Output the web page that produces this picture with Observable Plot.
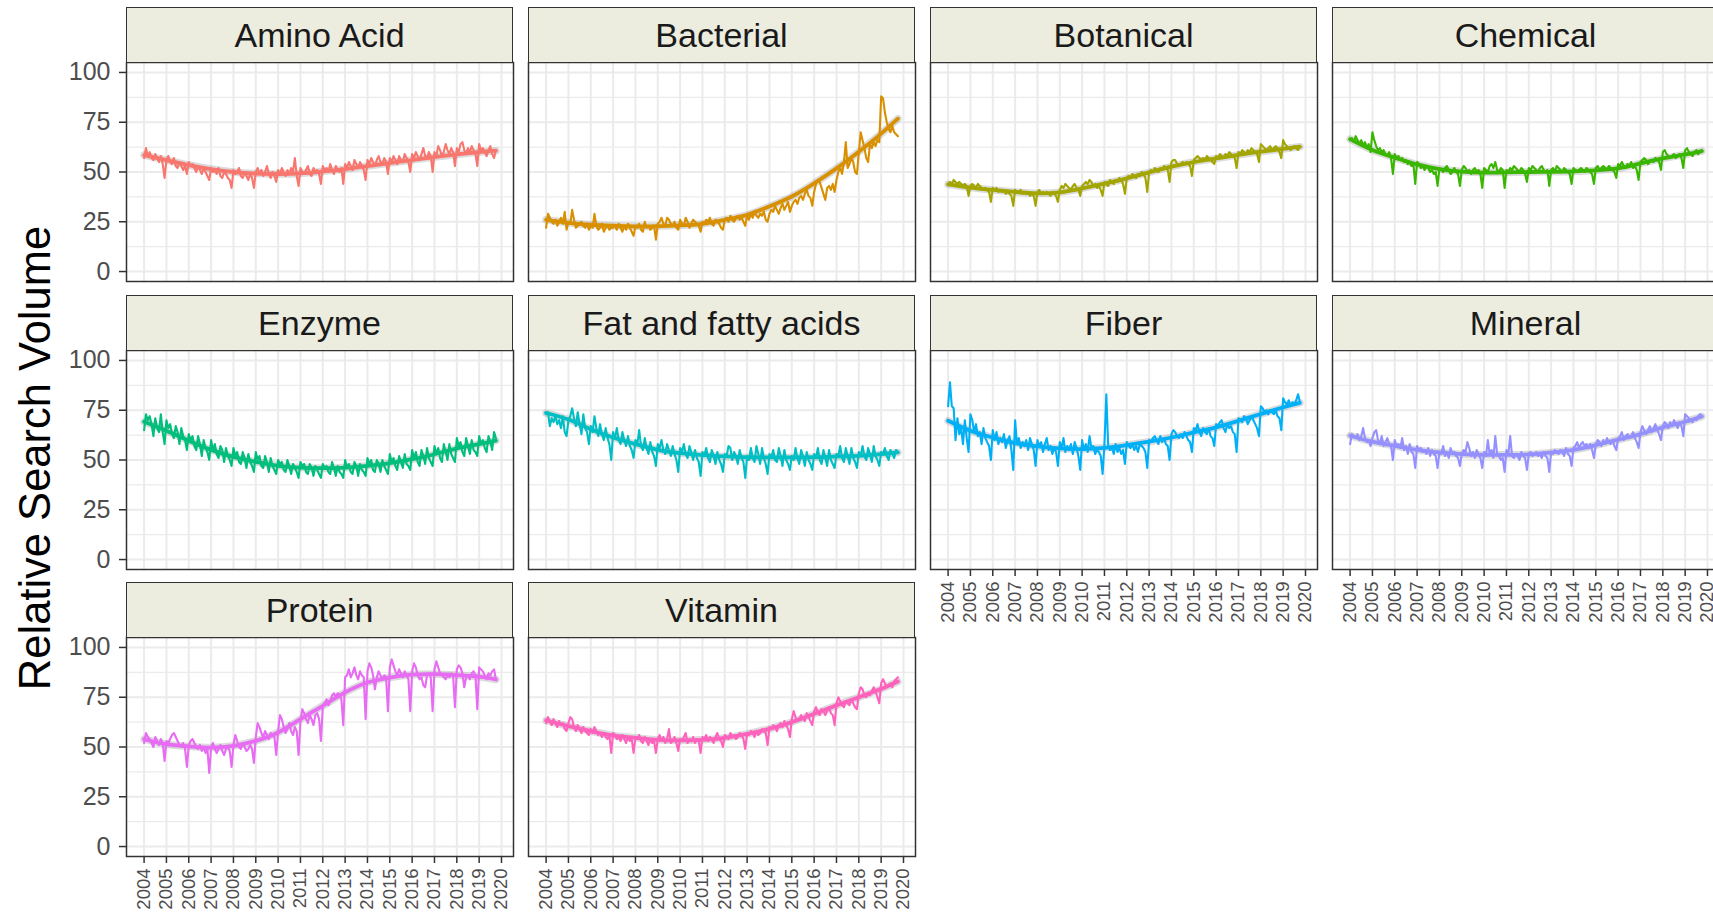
<!DOCTYPE html>
<html><head><meta charset="utf-8">
<script src="https://cdn.jsdelivr.net/npm/d3@7"></script>
<script src="https://cdn.jsdelivr.net/npm/@observablehq/plot@0.6"></script>
<style>
body{margin:0;background:#fff;font-family:"Liberation Sans",Arial,sans-serif;}
#chart{position:relative;width:1713px;height:913px;overflow:hidden;background:#fff;}
.strip{position:absolute;box-sizing:border-box;border:1.5px solid #333;background:#ECECDF;color:#1a1a1a;font-size:34px;display:flex;align-items:center;justify-content:center;font-family:"Liberation Sans",Arial,sans-serif;}
.panel{position:absolute;}
.panel svg{overflow:visible;max-width:none !important;height:auto;display:block;}
</style></head>
<body><div id="chart"></div>
<script>
// ---------- DATA ----------
const categories = ["Amino Acid","Bacterial","Botanical","Chemical","Enzyme","Fat and fatty acids","Fiber","Mineral","Protein","Vitamin"];
const colors = ["#F8766D","#D89000","#A3A500","#39B600","#00BF7D","#00BFC4","#00B0F6","#9590FF","#E76BF3","#FF62BC"];
const yearTicks = [2004,2005,2006,2007,2008,2009,2010,2011,2012,2013,2014,2015,2016,2017,2018,2019,2020];
const yTicks = [0,25,50,75,100];
const yMinor = [12.5,37.5,62.5,87.5];
const startYear = 2004; // monthly data, Jan 2004 - Oct 2019
const smoothKnots = [2004,2005,2006,2007,2008,2009,2010,2011,2012,2013,2014,2015,2016,2017,2018,2019,2019.75];

const aminoAcid = [
57,62,58,60,57,56,59,57,55,58,54,47,
56,58,55,54,57,53,52,55,53,51,53,49,
55,53,54,52,50,53,51,49,52,50,48,46,
52,50,51,49,52,48,47,50,49,47,46,42,
51,49,50,52,48,47,50,48,46,49,47,42,
50,52,49,51,48,50,53,49,47,50,48,45,
51,49,52,50,48,51,49,52,50,57,48,43,
52,50,49,51,53,49,48,52,50,51,49,44,
53,51,52,50,54,51,49,53,51,50,52,44,
54,52,55,53,51,56,54,52,55,53,51,46,
56,54,57,55,53,56,58,55,54,57,55,49,
57,55,58,56,54,58,56,55,59,57,55,50,
59,57,60,58,56,59,62,58,57,60,58,50,
60,58,63,61,58,60,64,61,59,62,60,53,
62,60,64,65,61,59,62,60,63,61,59,53,
64,61,62,60,58,61,63,59,57,61];
const bacterial = [
22,29,27,25,24,26,23,25,27,24,30,21,
25,24,31,26,22,23,24,25,23,22,24,21,
23,22,29,23,21,22,24,20,22,23,21,22,
22,23,21,24,22,20,23,21,24,22,20,18,
23,22,24,21,20,25,22,23,21,22,23,16,
24,25,27,24,23,27,26,24,23,25,22,21,
26,24,23,27,25,22,24,26,25,24,23,20,
25,24,26,25,27,24,23,26,25,24,22,21,
26,27,25,28,26,25,27,28,26,27,25,23,
28,26,29,27,30,28,27,29,28,30,26,25,
29,31,30,33,31,29,32,34,31,33,35,30,
33,35,36,34,37,38,36,39,41,38,37,33,
40,44,46,45,42,39,36,42,43,41,44,40,
46,50,52,49,55,65,52,54,57,55,50,49,
60,70,66,62,57,55,64,62,65,63,66,65,
88,87,80,75,72,70,73,70,69,68];
const botanical = [
44,45,44,46,45,44,45,44,43,44,43,38,
43,44,43,42,44,43,42,41,42,41,40,35,
42,41,42,40,41,40,41,39,40,39,38,33,
41,40,40,41,39,40,39,40,38,39,38,33,
40,41,39,40,39,40,39,38,40,39,38,35,
41,43,42,44,43,42,41,43,44,42,41,38,
43,44,45,44,46,45,43,44,42,43,41,38,
45,44,43,46,45,44,46,45,47,46,44,39,
47,48,47,49,48,47,49,48,50,49,47,40,
50,51,50,52,51,50,52,51,53,52,51,45,
55,56,56,54,53,54,55,54,55,54,53,48,
56,57,58,57,56,57,56,58,57,56,55,54,
58,57,59,58,57,59,58,60,59,58,57,52,
60,59,61,60,59,61,60,62,61,60,59,55,
64,63,62,61,62,63,61,62,63,62,60,57,
66,64,63,62,61,62,63,62,61,63];
const chemical = [
66,67,65,68,66,64,66,63,65,62,64,60,
70,66,63,61,62,60,61,59,58,60,57,49,
59,57,58,56,57,55,56,54,55,53,54,44,
55,54,52,53,51,53,52,50,51,49,50,43,
52,51,50,52,53,51,49,50,52,50,49,43,
51,53,52,50,51,49,51,52,50,51,49,42,
52,51,50,53,54,52,55,51,50,52,51,42,
51,50,52,51,53,52,51,50,52,51,49,45,
52,51,53,52,51,50,52,53,51,50,51,43,
51,52,50,53,52,51,50,52,51,50,49,44,
52,51,50,51,52,51,50,52,51,50,49,44,
52,53,51,52,53,52,51,53,52,51,50,47,
54,53,55,53,52,54,53,55,52,53,51,46,
55,56,57,56,54,55,56,55,57,56,55,51,
60,61,59,58,57,58,59,57,58,59,57,52,
61,62,60,59,58,60,61,59,60,61];
const enzyme = [
65,73,70,72,68,62,71,66,64,73,64,58,
70,66,68,63,61,67,64,58,66,62,60,55,
63,60,62,57,55,62,58,52,60,56,54,50,
60,55,58,53,51,57,55,49,56,52,50,47,
56,52,54,49,48,54,51,46,53,49,47,44,
54,50,52,47,46,52,49,44,51,47,45,43,
50,48,49,45,44,50,47,43,48,46,44,41,
49,47,48,44,43,48,46,42,47,45,43,41,
48,46,47,44,43,49,46,42,47,44,43,41,
50,46,48,44,43,49,47,42,48,45,44,42,
51,48,50,45,44,50,48,44,50,47,45,43,
53,49,51,47,45,52,49,46,53,48,47,45,
55,51,54,49,47,55,52,48,56,51,49,47,
57,53,56,51,49,58,54,50,58,53,51,49,
61,57,59,54,52,61,57,53,60,55,54,52,
62,58,60,56,54,62,59,55,64,61];
const fatAndFattyAcids = [
73,74,67,71,69,72,68,70,66,72,64,62,
70,72,76,71,67,74,68,63,73,66,64,58,
67,64,72,66,62,68,63,60,66,61,58,50,
64,61,66,60,58,64,60,57,62,57,55,51,
60,58,65,57,55,61,56,53,59,54,52,47,
58,56,60,55,53,58,55,52,57,53,50,44,
56,54,58,53,51,57,54,50,55,51,49,42,
54,52,56,51,49,55,52,48,54,50,48,44,
53,52,57,56,50,54,52,48,55,51,49,41,
52,50,56,51,49,57,53,48,56,51,48,43,
53,51,55,50,49,56,52,47,55,50,48,45,
52,50,56,51,48,55,52,47,54,50,48,45,
53,51,56,50,48,55,51,47,55,50,48,46,
53,52,57,51,49,56,52,48,56,51,49,46,
54,52,57,52,50,56,53,49,57,52,50,47,
54,53,56,52,50,55,53,51,55,54];
const fiber = [
77,89,77,76,60,71,63,66,58,70,61,54,
73,70,64,68,62,64,58,66,61,59,57,50,
65,60,64,58,61,59,63,56,60,62,55,45,
70,58,61,56,59,57,60,55,61,58,55,47,
60,57,59,54,58,61,55,57,53,56,54,47,
59,56,61,54,57,55,58,53,59,56,52,45,
60,55,58,54,62,56,57,53,55,54,52,43,
58,83,57,55,56,53,58,54,56,53,55,48,
59,57,56,58,55,57,54,58,57,56,54,46,
60,59,61,62,60,58,62,59,61,58,57,50,
63,65,64,62,61,63,61,64,62,60,59,54,
66,65,68,64,62,66,64,63,66,62,61,57,
68,67,69,70,66,64,68,66,67,64,63,54,
71,70,69,72,71,68,70,72,70,68,66,62,
77,76,74,75,73,75,74,73,75,72,71,65,
81,79,78,80,77,79,78,80,83,79];
const mineral = [
58,63,62,61,63,60,62,66,61,59,60,57,
61,64,65,60,58,62,57,59,61,58,57,50,
60,57,58,56,61,55,57,53,58,54,53,46,
57,55,56,54,55,53,56,52,55,53,52,46,
54,53,57,52,54,51,56,53,54,52,51,47,
53,55,54,59,56,52,54,51,55,53,51,46,
54,52,60,53,55,51,62,53,52,50,51,44,
55,53,62,52,51,53,52,50,54,52,51,45,
53,54,52,53,54,52,53,51,54,52,51,44,
54,53,55,54,53,55,54,52,56,53,52,47,
56,57,59,56,58,59,57,58,56,58,55,51,
58,60,59,57,60,58,61,59,58,60,57,55,
61,62,64,60,62,63,61,62,64,61,59,56,
64,67,65,63,65,67,64,66,68,65,63,60,
67,69,68,66,69,67,70,68,66,69,67,62,
73,72,71,70,69,71,70,72,73,72];
const protein = [
52,57,55,54,52,50,55,53,51,54,52,43,
53,52,54,56,57,55,53,51,50,52,49,40,
51,53,54,52,50,49,51,48,50,47,49,37,
50,52,49,47,49,51,48,46,49,50,48,40,
51,56,53,50,49,52,50,48,49,51,49,42,
55,62,60,57,55,58,56,54,57,56,55,46,
58,66,64,60,57,59,62,58,56,60,58,46,
63,69,67,64,62,66,64,61,66,67,64,53,
70,72,74,71,73,76,77,75,77,76,74,61,
85,86,89,85,87,90,86,84,88,86,85,64,
88,92,90,86,79,85,88,86,84,86,85,68,
90,94,91,88,86,89,87,85,88,86,84,68,
88,92,90,86,84,85,81,80,86,87,85,68,
89,93,90,87,86,85,84,86,85,87,86,70,
89,91,90,87,80,85,86,84,87,88,86,69,
90,89,88,86,84,87,86,88,89,84];
const vitamin = [
62,65,63,61,64,62,60,63,61,62,59,58,
62,65,64,60,58,61,59,57,60,58,57,56,
59,57,60,58,56,57,55,57,55,54,56,47,
57,56,54,55,53,56,54,52,55,53,54,47,
55,54,56,53,52,55,53,51,54,52,53,47,
54,56,53,55,52,54,59,52,53,55,52,48,
54,53,55,57,52,54,53,55,52,54,53,47,
55,54,56,53,55,54,52,55,57,54,53,50,
56,55,54,57,55,56,54,55,57,56,54,49,
57,56,58,57,55,58,56,57,59,58,57,51,
60,59,61,60,58,61,62,60,63,61,59,55,
64,68,65,63,64,66,64,63,67,65,63,61,
68,70,67,66,69,68,66,68,70,67,66,61,
72,75,73,71,70,73,72,71,74,72,70,69,
77,80,79,76,75,77,76,78,80,78,75,72,
82,84,82,80,81,82,80,83,84,85];

// loess-smooth values read at each January (last knot = end of data)
const aminoAcidSmooth = [58.5,56,53.5,51.5,50,49.2,49,49.3,50.3,51.5,53,54.5,56,57.5,58.8,60,60.7];
const bacterialSmooth = [26,24.5,23.5,23,22.7,22.8,23.2,24,26,28.5,32.7,37.7,44.3,51.8,60.2,69.3,76.8];
const botanicalSmooth = [43.8,42.2,41,40,39.3,39.8,41.8,44.2,46.8,49.8,52.7,55,56.8,58.6,60.2,61.6,62.7];
const chemicalSmooth = [66.5,61,57.2,53.8,51.5,50.2,49.7,49.8,50,50.1,50.3,50.8,51.8,54.3,56.8,58.8,60.5];
const enzymeSmooth = [69.2,64.7,59.7,55.1,51.6,49.1,47.1,46.2,45.9,46.2,47.1,48.4,50.4,52.9,55.8,58,59.7];
const fatAndFattyAcidsSmooth = [73.6,70.3,65.5,61.3,58,55.1,53.4,52.4,51.8,51.4,51.3,51.3,51.4,51.8,52.1,52.9,53.8];
const fiberSmooth = [69.7,64.7,61.3,58.5,56.8,55.8,55.5,56.1,57.5,59.2,61.3,63.9,66.4,69.7,73.1,76.5,78.7];
const mineralSmooth = [62.2,59.2,57.1,55.1,53.8,52.9,52.6,52.6,52.8,53.8,55.1,57.5,60.2,63,66.4,69.2,71.9];
const proteinSmooth = [53.9,51.4,50.3,49.7,50.6,53.1,57.3,64,70.7,77.4,82.4,84.9,86.3,86.6,86.1,85.3,83.9];
const vitaminSmooth = [63.3,60.5,58,55.8,54.6,53.6,53.3,53.6,54.6,56.6,59.1,62.5,66.7,70.9,75,79.2,82.9];

const seriesValues = [aminoAcid,bacterial,botanical,chemical,enzyme,fatAndFattyAcids,fiber,mineral,protein,vitamin];
const seriesSmooth = [aminoAcidSmooth,bacterialSmooth,botanicalSmooth,chemicalSmooth,enzymeSmooth,fatAndFattyAcidsSmooth,fiberSmooth,mineralSmooth,proteinSmooth,vitaminSmooth];

// ---------- LAYOUT ----------
const FONT = "Liberation Sans, Arial, sans-serif";
const colLeft = [126, 528, 930, 1332];
const plotTop = [62, 350, 637];
const PW = 387, PH = 219, STRIP = 55;
const ML = 72, MR = 4, MB = 62;
const xDomain = [2003.2125, 2020.5375];
const chart = document.getElementById("chart");
const nCols = 4;

function bottomOfColumn(i) {
  return i + nCols >= categories.length;
}

categories.forEach((name, i) => {
  const c = i % nCols, r = Math.floor(i / nCols);
  const rows = seriesValues[i].map((v, k) => ({x: startYear + k / 12, y: v}));
  const srows = smoothKnots.map((x, k) => ({x, y: seriesSmooth[i][k]}));
  const showX = bottomOfColumn(i), showY = c === 0;
  const marks = [
    Plot.ruleY(yMinor, {stroke: "#EBEBEB", strokeWidth: 1.3}),
    Plot.ruleY(yTicks, {stroke: "#EBEBEB", strokeWidth: 2}),
    Plot.ruleX(yearTicks, {stroke: "#EBEBEB", strokeWidth: 2}),
    Plot.line(srows, {x: "x", y: "y", stroke: "#999999", strokeOpacity: 0.35, strokeWidth: 7.5, curve: "natural"}),
    Plot.line(rows, {x: "x", y: "y", stroke: colors[i], strokeWidth: 2.1, strokeLinejoin: "round"}),
    Plot.line(srows, {x: "x", y: "y", stroke: colors[i], strokeWidth: 3.8, curve: "natural"}),
    Plot.frame({stroke: "#333333", strokeWidth: 1.5})
  ];
  if (showX) marks.push(Plot.axisX({ticks: yearTicks, tickFormat: d => String(d), tickRotate: -90, tickSize: 7, tickPadding: 5, fontSize: 18.5, stroke: "#333333", strokeWidth: 1.5, color: "#4D4D4D", label: null}));
  if (showY) marks.push(Plot.axisY({ticks: yTicks, tickSize: 7, tickPadding: 9, fontSize: 25, stroke: "#333333", strokeWidth: 1.5, color: "#4D4D4D", label: null}));
  const W = ML + PW + MR, H = PH + MB;
  const svg = Plot.plot({
    width: W,
    height: H,
    marginLeft: ML, marginRight: MR, marginTop: 0, marginBottom: MB,
    style: {fontFamily: FONT, background: "transparent", overflow: "visible", maxWidth: "none"},
    x: {domain: xDomain, axis: null},
    y: {domain: [-5, 105], axis: null},
    marks
  });
  svg.style.width = W + "px";
  svg.style.height = H + "px";
  const wrap = document.createElement("div");
  wrap.className = "panel";
  wrap.style.left = (colLeft[c] - ML) + "px";
  wrap.style.top = plotTop[r] + "px";
  wrap.style.width = W + "px";
  wrap.style.height = H + "px";
  wrap.appendChild(svg);
  chart.appendChild(wrap);

  const strip = document.createElement("div");
  strip.className = "strip";
  strip.style.left = colLeft[c] + "px";
  strip.style.top = (plotTop[r] - STRIP) + "px";
  strip.style.width = PW + "px";
  strip.style.height = (STRIP + 1) + "px";
  strip.textContent = name;
  chart.appendChild(strip);
});

// y-axis title
const ns = "http://www.w3.org/2000/svg";
const tsvg = document.createElementNS(ns, "svg");
tsvg.setAttribute("width", 70); tsvg.setAttribute("height", 913);
tsvg.style.position = "absolute"; tsvg.style.left = "0px"; tsvg.style.top = "0px";
const t = document.createElementNS(ns, "text");
t.setAttribute("transform", "translate(50,458) rotate(-90)");
t.setAttribute("text-anchor", "middle");
t.setAttribute("font-family", FONT);
t.setAttribute("font-size", "43.5");
t.setAttribute("fill", "#000");
t.textContent = "Relative Search Volume";
tsvg.appendChild(t);
chart.appendChild(tsvg);
</script>
</body></html>
